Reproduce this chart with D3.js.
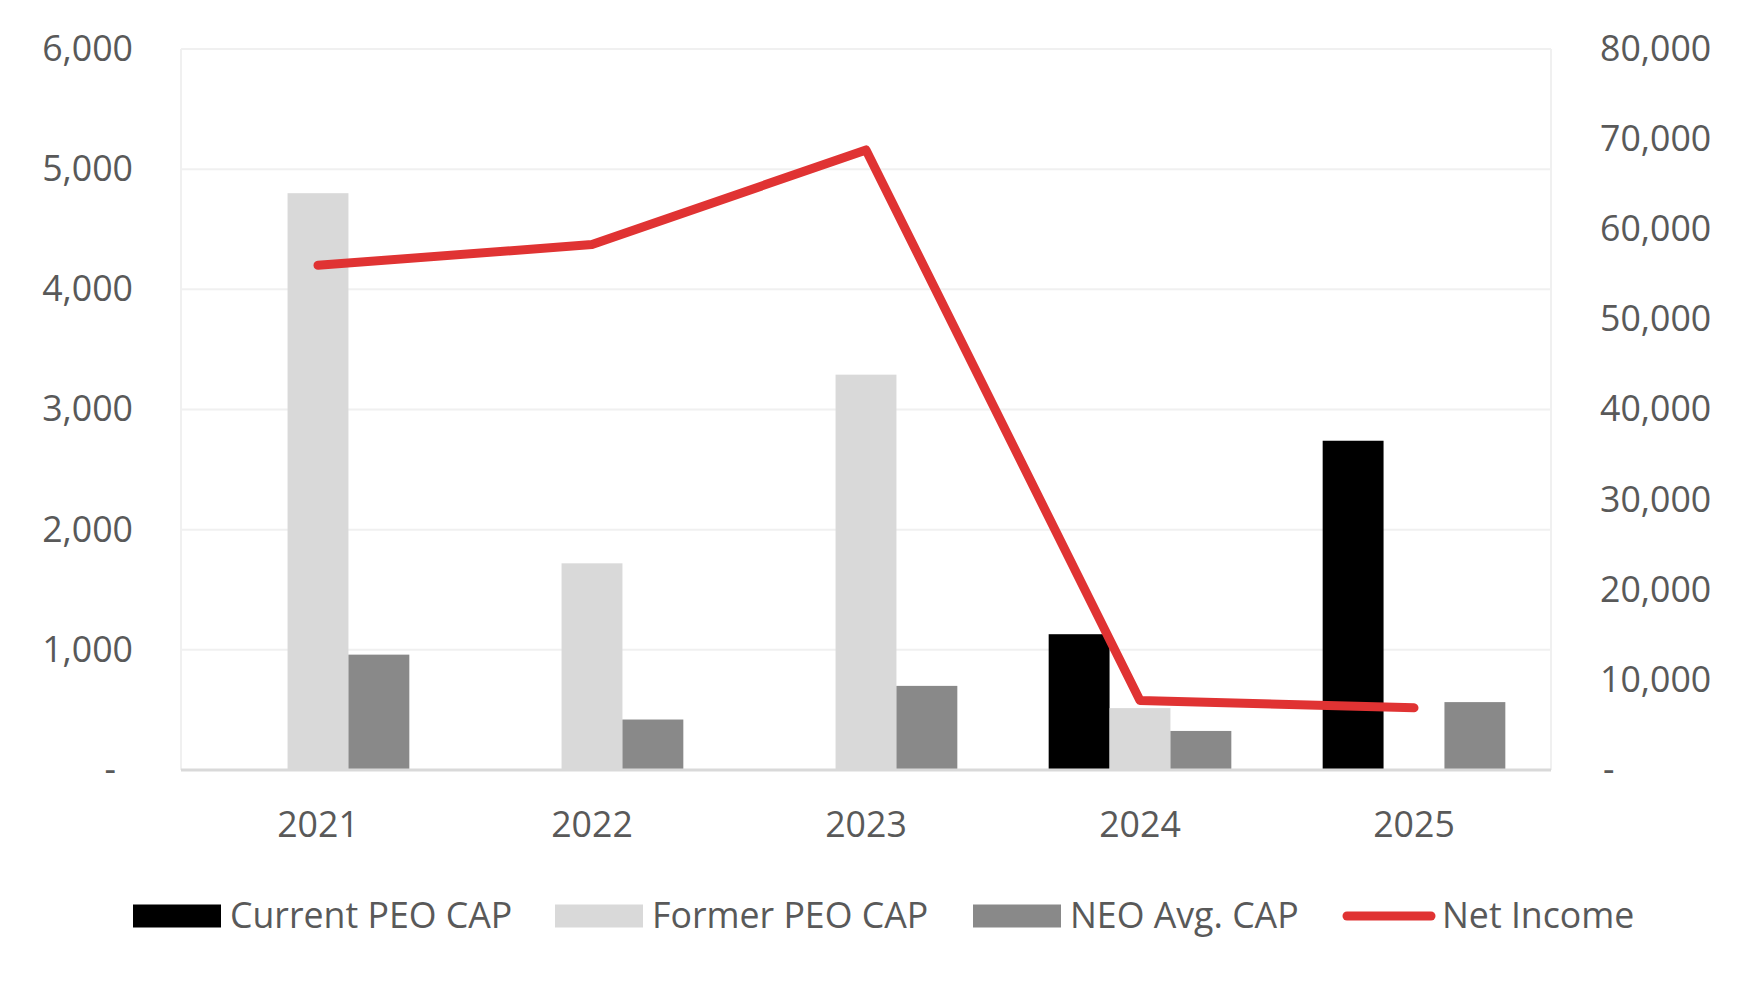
<!DOCTYPE html>
<html>

<head>
    <title>CAP vs Net Income</title>
    <style>
        body {
            margin: 0;
            background: #fff;
            font-family: "Open Sans", sans-serif;
        }

        text {
            fill: #595959;
        }
    </style>
    <script src="https://d3js.org/d3.v7.min.js"></script>
</head>

<body>
    <svg width="1753" height="983"></svg>

    <script>
        var years = ["2021", "2022", "2023", "2024", "2025"];
        var seriesNames = ["Current PEO CAP", "Former PEO CAP", "NEO Avg. CAP"];
        var currentPeo = [0, 0, 0, 1130, 2740];
        var formerPeo = [4800, 1720, 3290, 515, 0];
        var neoAvg = [960, 420, 700, 325, 565];
        var netIncome = [56000, 58300, 68800, 7700, 6900];
        var leftTicks = [0, 1000, 2000, 3000, 4000, 5000, 6000];
        var rightTicks = [0, 10000, 20000, 30000, 40000, 50000, 60000, 70000, 80000];

        var colors = { "Current PEO CAP": "#000000", "Former PEO CAP": "#d9d9d9", "NEO Avg. CAP": "#898989" };
        var lineColor = "#e03333";
        var fontSize = "35.7px";

        var svg = d3.select("svg");
        // note: "top" is reserved on window, so plot edges get a prefix
        var plotLeft = 181, plotRight = 1551, plotTop = 49, plotBottom = 770;

        var x0 = d3.scaleBand().domain(years).range([plotLeft, plotRight]);
        var x1 = d3.scaleBand().domain(seriesNames).range([0, x0.bandwidth()]).paddingOuter(0.75);
        var yL = d3.scaleLinear().domain([0, 6000]).range([plotBottom, plotTop]);
        var yR = d3.scaleLinear().domain([0, 80000]).range([plotBottom, plotTop]);

        var fmt = d3.format(",");

        // gridlines + frame
        svg.append("g").selectAll("line")
            .data(leftTicks.slice(1))
            .enter().append("line")
            .attr("x1", plotLeft).attr("x2", plotRight)
            .attr("y1", function (d) { return yL(d); })
            .attr("y2", function (d) { return yL(d); })
            .attr("stroke", "#f0f0f0").attr("stroke-width", 2);
        svg.append("line").attr("x1", plotLeft).attr("x2", plotLeft).attr("y1", plotTop).attr("y2", plotBottom)
            .attr("stroke", "#f0f0f0").attr("stroke-width", 2);
        svg.append("line").attr("x1", plotRight).attr("x2", plotRight).attr("y1", plotTop).attr("y2", plotBottom)
            .attr("stroke", "#f0f0f0").attr("stroke-width", 2);

        // bars
        var rows = years.map(function (y, i) {
            return { year: y, values: [currentPeo[i], formerPeo[i], neoAvg[i]] };
        });
        var groups = svg.append("g").selectAll("g")
            .data(rows)
            .enter().append("g")
            .attr("transform", function (d) { return "translate(" + x0(d.year) + ",0)"; });
        groups.selectAll("rect")
            .data(function (d) {
                return d.values.map(function (v, j) { return { key: seriesNames[j], value: v }; });
            })
            .enter().append("rect")
            .attr("x", function (d) { return x1(d.key); })
            .attr("width", x1.bandwidth())
            .attr("y", function (d) { return yL(d.value); })
            .attr("height", function (d) { return plotBottom - yL(d.value); })
            .attr("fill", function (d) { return colors[d.key]; });

        // baseline
        svg.append("line").attr("x1", plotLeft).attr("x2", plotRight).attr("y1", plotBottom).attr("y2", plotBottom)
            .attr("stroke", "#d9d9d9").attr("stroke-width", 3);

        // net income line
        var line = d3.line()
            .x(function (d, i) { return x0(years[i]) + x0.bandwidth() / 2; })
            .y(function (d) { return yR(d); });
        svg.append("path")
            .datum(netIncome)
            .attr("d", line)
            .attr("fill", "none")
            .attr("stroke", lineColor)
            .attr("stroke-width", 9)
            .attr("stroke-linecap", "round")
            .attr("stroke-linejoin", "round");

        // axes
        var leftAxis = svg.append("g")
            .attr("transform", "translate(" + plotLeft + ",0)")
            .call(d3.axisLeft(yL).tickValues(leftTicks).tickSize(0).tickPadding(48)
                .tickFormat(function (d) { return d === 0 ? "-" : fmt(d); }));
        leftAxis.select(".domain").remove();
        leftAxis.selectAll("text")
            .style("font-size", fontSize).style("font-family", "Open Sans").attr("fill", "#595959")
            .attr("dx", function (d) { return d === 0 ? "-17" : 0; });

        var rightAxis = svg.append("g")
            .attr("transform", "translate(" + plotRight + ",0)")
            .call(d3.axisRight(yR).tickValues(rightTicks).tickSize(0).tickPadding(49)
                .tickFormat(function (d) { return d === 0 ? "-" : fmt(d); }));
        rightAxis.select(".domain").remove();
        rightAxis.selectAll("text")
            .style("font-size", fontSize).style("font-family", "Open Sans").attr("fill", "#595959")
            .attr("dx", function (d) { return d === 0 ? "3" : 0; });

        var bottomAxis = svg.append("g")
            .attr("transform", "translate(0," + plotBottom + ")")
            .call(d3.axisBottom(x0).tickSize(0).tickPadding(42));
        bottomAxis.select(".domain").remove();
        bottomAxis.selectAll("text")
            .style("font-size", fontSize).style("font-family", "Open Sans").attr("fill", "#595959");

        // legend
        var legendItems = [
            { name: "Current PEO CAP", x: 133, type: "rect" },
            { name: "Former PEO CAP", x: 555, type: "rect" },
            { name: "NEO Avg. CAP", x: 973, type: "rect" },
            { name: "Net Income", x: 1343, type: "line" }
        ];
        var legend = svg.append("g").selectAll("g")
            .data(legendItems)
            .enter().append("g")
            .attr("transform", function (d) { return "translate(" + d.x + ",916)"; });
        legend.each(function (d) {
            var g = d3.select(this);
            if (d.type === "rect") {
                g.append("rect").attr("x", 0).attr("y", -11.5).attr("width", 88).attr("height", 23)
                    .attr("fill", colors[d.name]);
            } else {
                g.append("line").attr("x1", 4).attr("x2", 88).attr("y1", 0).attr("y2", 0)
                    .attr("stroke", lineColor).attr("stroke-width", 9).attr("stroke-linecap", "round");
            }
            g.append("text").attr("x", d.type === "rect" ? 97 : 99).attr("y", 12)
                .style("font-size", fontSize).text(d.name);
        });
    </script>

</body>

</html>
